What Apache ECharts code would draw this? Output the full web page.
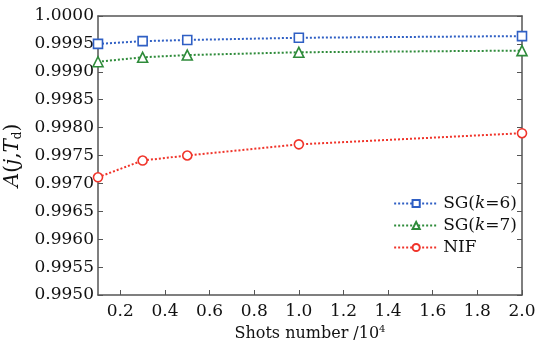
<!DOCTYPE html>
<html>
<head>
<meta charset="utf-8">
<script src="https://cdn.jsdelivr.net/npm/echarts@6/dist/echarts.min.js"></script>
<style>
    html, body { margin: 0; padding: 0; background: #fff; }
    #chart { width: 536px; height: 342px; }
</style>
</head>
<body>
<div id="chart"></div>
<script>
// shots number (x10^4)
const shots = [0.1, 0.3, 0.5, 1.0, 2.0];
const sg6 = [0.99950, 0.99955, 0.99957, 0.99961, 0.99964];
const sg7 = [0.99918, 0.99926, 0.99930, 0.99935, 0.99938];
const nif = [0.99711, 0.99741, 0.99750, 0.99770, 0.99790];
const xTicks = [0.2, 0.4, 0.6, 0.8, 1.0, 1.2, 1.4, 1.6, 1.8, 2.0];

const font = "'DejaVu Serif', 'Liberation Serif', serif";
const axisColor = "#555";

function pairs(ys) {
    return shots.map((x, i) => [x, ys[i]]);
}

function makeSeries(name, data, color, symbol) {
    return {
        name,
        type: "line",
        data: pairs(data),
        symbol,
        symbolSize: symbol === "triangle" ? 10 : 9,
        showSymbol: true,
        lineStyle: { color, width: 2, type: [2, 2] },
        itemStyle: { color: "#fff", borderColor: color, borderWidth: 1.6 },
        emphasis: { disabled: true }
    };
}

const numStyle = { t: { fontFamily: font, fontSize: 17, color: "#111" } };

const chart = echarts.init(document.getElementById("chart"));
chart.setOption({
    animation: false,
    textStyle: { fontFamily: font },
    grid: { left: 98, right: 14, top: 16, bottom: 47, outerBoundsMode: "none", containLabel: false },
    legend: {
        right: 14,
        top: 190,
        orient: "vertical",
        itemWidth: 44,
        itemHeight: 9,
        itemGap: 5,
        data: [
            { name: "SG(k=6)" },
            { name: "SG(k=7)" },
            { name: "NIF" }
        ],
        formatter: function (name) {
            if (name === "NIF") return "NIF";
            const k = name.match(/k=(\d)/)[1];
            return "SG({i|k}=" + k + ")";
        },
        textStyle: {
            fontFamily: font, fontSize: 17, color: "#111",
            rich: { i: { fontFamily: font, fontSize: 17, fontStyle: "italic", color: "#111" } }
        }
    },
    xAxis: [
        {
            type: "value",
            min: 0.1,
            max: 2.0,
            name: "Shots number /10{sup|4}",
            nameLocation: "middle",
            nameGap: 29,
            nameTextStyle: {
                fontFamily: font, fontSize: 16, color: "#111",
                rich: { sup: { fontSize: 10, verticalAlign: "top", padding: [0, 0, 8, 0], fontFamily: font, color: "#111" } }
            },
            axisLine: { show: true, lineStyle: { color: axisColor, width: 1.5 } },
            axisTick: { show: true, inside: true, length: 5, customValues: xTicks, lineStyle: { color: axisColor } },
            axisLabel: {
                customValues: xTicks,
                fontFamily: font, fontSize: 17, color: "#111", margin: 8,
                formatter: v => "{t|" + v.toFixed(1) + "}",
                rich: numStyle
            },
            splitLine: { show: false }
        },
        {
            type: "value",
            position: "top",
            min: 0.1,
            max: 2.0,
            axisLine: { show: true, onZero: false, lineStyle: { color: axisColor, width: 1.5 } },
            axisTick: { show: false },
            axisLabel: { show: false },
            splitLine: { show: false }
        }
    ],
    yAxis: [
        {
            type: "value",
            min: 0.995,
            max: 1.0,
            interval: 0.0005,
            name: "{i|A}({i|j},{i|T}{sub|d})",
            nameLocation: "middle",
            nameGap: 66,
            nameTextStyle: {
                fontFamily: font, fontSize: 20, color: "#111",
                rich: {
                    i: { fontFamily: font, fontSize: 20, fontStyle: "italic", color: "#111" },
                    sub: { fontFamily: font, fontSize: 12, verticalAlign: "bottom", padding: [9, 0, 0, 0], color: "#111" }
                }
            },
            axisLine: { show: true, lineStyle: { color: axisColor, width: 1.5 } },
            axisTick: { show: true, inside: true, length: 5, lineStyle: { color: axisColor } },
            axisLabel: {
                fontFamily: font, fontSize: 17, color: "#111", margin: 4,
                formatter: v => "{t|" + v.toFixed(4) + "}",
                rich: numStyle
            },
            splitLine: { show: false }
        },
        {
            type: "value",
            position: "right",
            min: 0.995,
            max: 1.0,
            interval: 0.0005,
            axisLine: { show: true, onZero: false, lineStyle: { color: axisColor, width: 1.5 } },
            axisTick: { show: true, inside: true, length: 5, lineStyle: { color: axisColor } },
            axisLabel: { show: false },
            splitLine: { show: false }
        }
    ],
    series: [
        makeSeries("SG(k=6)", sg6, "#2f5fc4", "rect"),
        makeSeries("SG(k=7)", sg7, "#2e8b3a", "triangle"),
        makeSeries("NIF", nif, "#f0342a", "circle")
    ]
});
</script>
</body>
</html>
